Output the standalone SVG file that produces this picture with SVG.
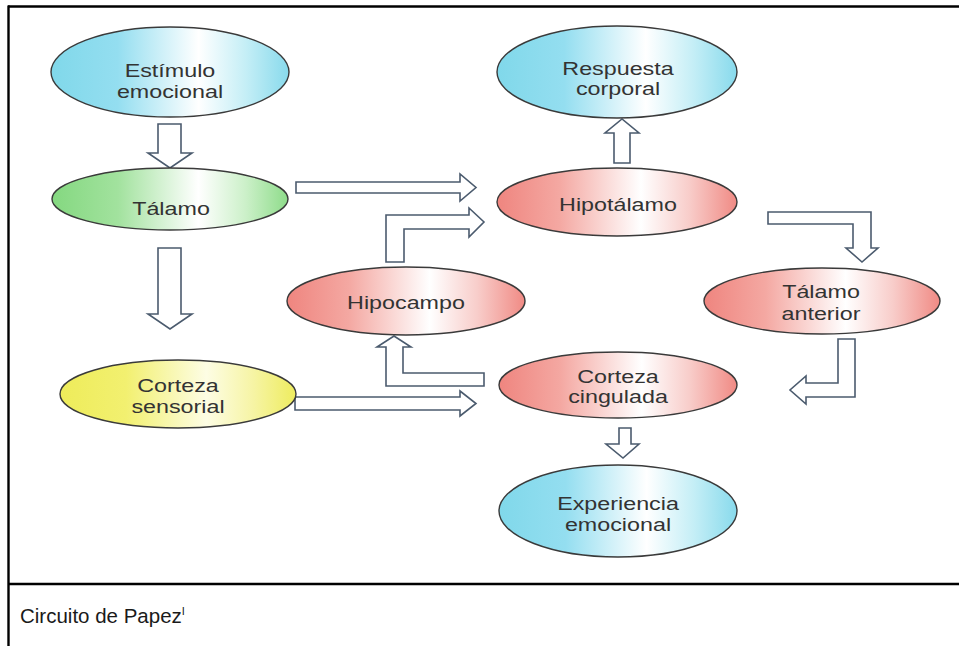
<svg xmlns="http://www.w3.org/2000/svg" width="959" height="646" viewBox="0 0 959 646">
<defs>
<linearGradient id="gCyan" x1="0" y1="0" x2="1" y2="0">
<stop offset="0" stop-color="#80d8ea"/><stop offset="0.28" stop-color="#94def0"/><stop offset="0.62" stop-color="#ffffff"/><stop offset="0.82" stop-color="#c4eef6"/><stop offset="1" stop-color="#88daec"/>
</linearGradient>
<linearGradient id="gRed" x1="0" y1="0" x2="1" y2="0">
<stop offset="0" stop-color="#ef857f"/><stop offset="0.26" stop-color="#f4a8a2"/><stop offset="0.6" stop-color="#ffffff"/><stop offset="0.8" stop-color="#f8cdca"/><stop offset="1" stop-color="#f08a84"/>
</linearGradient>
<linearGradient id="gGreen" x1="0" y1="0" x2="1" y2="0">
<stop offset="0" stop-color="#84d880"/><stop offset="0.28" stop-color="#a2e29e"/><stop offset="0.62" stop-color="#ffffff"/><stop offset="0.82" stop-color="#ccf0c9"/><stop offset="1" stop-color="#8edc8a"/>
</linearGradient>
<linearGradient id="gYellow" x1="0" y1="0" x2="1" y2="0">
<stop offset="0" stop-color="#eeec5a"/><stop offset="0.28" stop-color="#f2f070"/><stop offset="0.62" stop-color="#fdfde4"/><stop offset="0.82" stop-color="#f6f4a4"/><stop offset="1" stop-color="#eeec5e"/>
</linearGradient>
<style>
.node ellipse{stroke:#3a3a3a;stroke-width:1.4}
.lbl{font-family:"Liberation Sans",Arial,sans-serif;font-size:18.5px;fill:#333;text-anchor:middle}
.arr{fill:#ffffff;stroke:#4b5b6e;stroke-width:1.6;stroke-linejoin:miter}
.frame{stroke:#000;stroke-width:2.4;fill:none}
.cap{font-family:"Liberation Sans",Arial,sans-serif;font-size:20.5px;fill:#1a1a1a}
</style>
</defs>
<rect x="0" y="0" width="959" height="646" fill="#ffffff"/>
<g id="frame">
<line class="frame" x1="8" y1="6.5" x2="959" y2="6.5"/>
<line class="frame" x1="8.5" y1="5.5" x2="8.5" y2="646"/>
<line class="frame" x1="8" y1="584" x2="959" y2="584"/>
</g>
<g id="connectors">
<polygon class="arr" points="158,124 181,124 181,153 192,153 170,168 148,153 158,153"/>
<polygon class="arr" points="158,248 181,248 181,314 192,314 170,329 148,314 158,314"/>
<polygon class="arr" points="296,182 460,182 460,174 476,187.5 460,201 460,193 296,193"/>
<polygon class="arr" points="386,262 386,215 469,215 469,208 484,222 469,237 469,229 404,229 404,262"/>
<polygon class="arr" points="614,163 614,133 605,133 622,119 639,133 630,133 630,163"/>
<polygon class="arr" points="768,212 871,212 871,248 878,248 862,262 846,248 853,248 853,224 768,224"/>
<polygon class="arr" points="838,339 855,339 855,397 806,397 806,404 790,390 806,376 806,383 838,383"/>
<polygon class="arr" points="484,373 403,373 403,347 411,347 394,336 377,347 386,347 386,386 484,386"/>
<polygon class="arr" points="295,397 460,397 460,391 476,403.5 460,416 460,410 295,410"/>
<polygon class="arr" points="619,428 631,428 631,444 639,444 623,458 606,444 619,444"/>
</g>
<g id="estimulo" class="node">
<ellipse cx="170" cy="72" rx="119" ry="45" fill="url(#gCyan)"/>
<text class="lbl" transform="translate(170,0) scale(1.26,1)" x="0" y="77">Estímulo</text>
<text class="lbl" transform="translate(170,0) scale(1.26,1)" x="0" y="98">emocional</text>
</g>
<g id="talamo" class="node">
<ellipse cx="170" cy="199" rx="118" ry="31" fill="url(#gGreen)"/>
<text class="lbl" transform="translate(171,0) scale(1.26,1)" x="0" y="215">Tálamo</text>
</g>
<g id="corteza-sensorial" class="node">
<ellipse cx="178" cy="394" rx="118" ry="34" fill="url(#gYellow)"/>
<text class="lbl" transform="translate(178,0) scale(1.26,1)" x="0" y="392">Corteza</text>
<text class="lbl" transform="translate(178,0) scale(1.26,1)" x="0" y="413">sensorial</text>
</g>
<g id="respuesta" class="node">
<ellipse cx="617" cy="72" rx="120" ry="46" fill="url(#gCyan)"/>
<text class="lbl" transform="translate(618,0) scale(1.26,1)" x="0" y="75">Respuesta</text>
<text class="lbl" transform="translate(618,0) scale(1.26,1)" x="0" y="95">corporal</text>
</g>
<g id="hipotalamo" class="node">
<ellipse cx="617" cy="202" rx="120" ry="34" fill="url(#gRed)"/>
<text class="lbl" transform="translate(618,0) scale(1.26,1)" x="0" y="211">Hipotálamo</text>
</g>
<g id="hipocampo" class="node">
<ellipse cx="406" cy="301" rx="119" ry="34" fill="url(#gRed)"/>
<text class="lbl" transform="translate(406,0) scale(1.26,1)" x="0" y="309">Hipocampo</text>
</g>
<g id="talamo-anterior" class="node">
<ellipse cx="822" cy="301" rx="118" ry="33" fill="url(#gRed)"/>
<text class="lbl" transform="translate(821,0) scale(1.26,1)" x="0" y="298">Tálamo</text>
<text class="lbl" transform="translate(821,0) scale(1.26,1)" x="0" y="320">anterior</text>
</g>
<g id="corteza-cingulada" class="node">
<ellipse cx="618" cy="385" rx="119" ry="33" fill="url(#gRed)"/>
<text class="lbl" transform="translate(618,0) scale(1.26,1)" x="0" y="383">Corteza</text>
<text class="lbl" transform="translate(618,0) scale(1.26,1)" x="0" y="403">cingulada</text>
</g>
<g id="experiencia" class="node">
<ellipse cx="618" cy="511" rx="119" ry="46" fill="url(#gCyan)"/>
<text class="lbl" transform="translate(618,0) scale(1.26,1)" x="0" y="510">Experiencia</text>
<text class="lbl" transform="translate(618,0) scale(1.26,1)" x="0" y="531">emocional</text>
</g>
<g id="caption">
<text class="cap" x="20" y="623">Circuito de Papez<tspan font-size="11" dy="-8">I</tspan></text>
</g>
</svg>
